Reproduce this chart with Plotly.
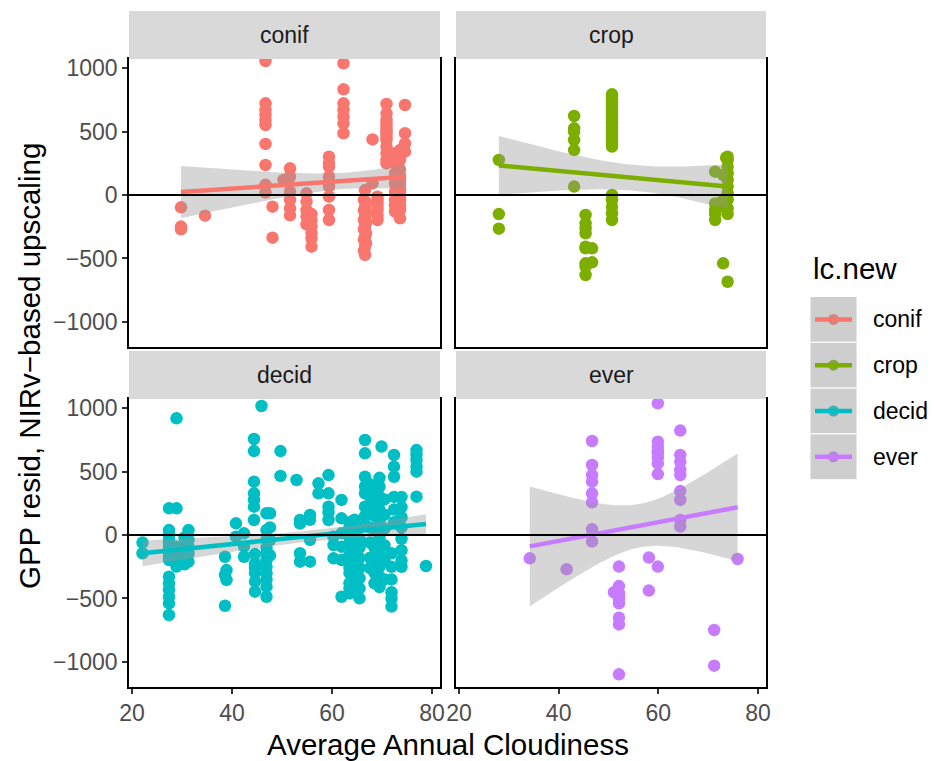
import numpy as np
import plotly.graph_objects as go

W, H = 935, 761

groups = ["conif", "crop", "decid", "ever"]
colors = {"conif": "#F8766D", "crop": "#7CAE00", "decid": "#00BFC4", "ever": "#C77CFF"}

conif_x = [29.8, 29.8, 29.8, 34.6,
           46.7, 46.7, 46.7, 46.7, 46.7, 46.7, 46.7, 46.7, 46.7, 46.7,
           48.1, 48.1, 50.3,
           51.6, 51.6, 51.6, 51.6, 51.6, 51.6,
           54.9, 54.9, 54.9, 54.9, 54.9,
           55.9, 55.9, 55.9, 55.9, 55.9, 55.9,
           59.4, 59.4, 59.4, 59.4, 59.4, 59.4, 59.4, 59.4, 59.4,
           62.3, 62.3, 62.3, 62.3, 62.3, 62.3, 62.3,
           66.6, 66.4, 66.8, 66.6, 66.4, 66.8, 66.6, 66.4, 66.8, 66.6, 66.4, 66.8, 66.6, 66.4, 66.8, 66.6, 66.4, 66.6,
           68.1, 68.1,
           69.1, 69.1, 69.1, 69.1, 69.1, 69.1, 69.1,
           70.9, 70.9, 70.9, 70.9, 70.9, 70.9, 70.9, 70.9, 70.9, 70.9, 70.9, 70.9, 70.9,
           72.6, 72.6, 72.6, 72.6, 72.6, 72.6, 72.6, 72.6,
           73.6, 73.6, 73.6, 73.6, 73.6, 73.6, 73.6, 73.6, 73.6, 73.6, 73.6, 73.6, 73.6,
           74.6, 74.6, 74.6, 74.6]
conif_y = [-97, -249, -270, -163,
           1055, 722, 669, 630, 590, 551, 402, 236, 80, 20,
           -92, -336, 118,
           210, 144, 26, -39, -105, -160,
           13, -52, -118, -170, -230,
           -150, -200, -249, -300, -341, -407,
           302, 250, 223, 144, 100, 66, -13, -118, -197,
           1037, 832, 722, 669, 617, 564, 486,
           39, -39, -60, -92, -120, -144, -170, -197, -220, -249, -270, -302, -330, -354, -380, -407, -440, -472,
           438, 92,
           -13, -40, -65, -90, -118, -160, -197,
           717, 643, 590, 560, 538, 510, 486, 460, 433, 381, 328, 276, 249,
           328, 250, 170, 92, 26, -39, -80, -130,
           354, 300, 276, 200, 150, 118, 80, 40, 0, -39, -80, -118, -184,
           709, 486, 407, 341]

crop_x = [28.0, 28.0, 28.0,
          43.1, 43.1, 43.1, 43.1, 43.1, 43.1,
          45.4, 45.4, 45.4, 45.4, 45.4, 45.4, 45.4, 45.4, 45.4,
          46.7, 46.7,
          50.7, 50.7, 50.7, 50.7, 50.7, 50.7, 50.7, 50.7, 50.7, 50.7,
          50.7, 50.7, 50.7, 50.7, 50.7, 50.7, 50.7, 50.7, 50.7, 50.7,
          50.7, 50.7, 50.7, 50.7, 50.7,
          71.4, 71.4, 71.4, 71.4, 71.4,
          73.0, 73.0, 73.0, 73.0,
          73.6,
          73.9, 73.9, 73.9, 73.9, 73.9, 73.9, 73.9, 73.9, 73.9, 73.9, 73.9]
crop_y = [276, -150, -265,
          622, 525, 499, 433, 354, 66,
          -157, -223, -262, -302, -407, -420, -538, -564, -630,
          -420, -530,
          793, 775, 748, 730, 712, 690, 668, 645, 625, 600,
          578, 560, 535, 512, 490, 470, 448, 425, 405, 381,
          0, -39, -92, -144, -197,
          184, -66, -118, -197, -150,
          158, -39, -538, -90,
          294,
          302, 276, 223, 171, 118, 66, 13, -39, -105, -683, -150]

decid_x = [22.1, 22.1,
           27.4, 27.4, 27.4, 27.4, 27.4, 27.4, 27.4, 27.4, 27.4, 27.4, 27.4, 27.4, 27.4, 27.4, 27.4, 27.4,
           28.9, 28.9, 28.9, 28.9, 28.9, 28.9, 28.9,
           30.5, 30.5, 30.5, 30.5,
           31.3, 31.3, 31.3, 31.3, 31.3,
           38.6, 38.6, 38.6, 38.9, 38.9,
           40.8, 40.8, 42.4, 42.4, 42.4,
           44.4, 44.4, 44.4, 44.4, 44.4, 44.4, 44.4,
           44.6, 44.6, 44.6, 44.6, 44.6, 44.6,
           45.9,
           46.9, 46.9, 46.9, 46.9, 46.9, 46.9, 46.9, 46.9, 46.9, 46.9, 46.9,
           47.6, 47.6, 47.6, 47.6,
           49.7, 49.7, 52.9,
           53.6, 53.6, 53.6, 53.6,
           55.6, 55.6, 55.6, 55.6,
           57.3, 57.3,
           59.3, 59.3, 59.3, 59.3, 59.3,
           60.3, 60.3, 60.3,
           61.9, 61.9, 61.9, 61.9, 61.9, 61.9,
           63.5, 63.5, 63.5, 63.5, 63.5, 63.5, 63.5, 63.5, 63.5, 63.5, 63.5, 63.5, 63.5,
           64.5, 64.5, 64.5, 64.5, 64.5, 64.5, 64.5, 64.5, 64.5, 64.5, 64.5,
           65.5, 65.5, 65.5, 65.5, 65.5, 65.5, 65.5, 65.5,
           66.6, 66.6, 66.6, 66.6, 66.6, 66.6, 66.6, 66.6,
           67.6, 67.6, 67.6, 67.6, 67.6, 67.6, 67.6,
           68.5, 68.5, 68.5, 68.5, 68.5, 68.5, 68.5, 68.5,
           69.5, 69.5, 69.5, 69.5, 69.5, 69.5, 69.5, 69.5, 69.5, 69.5,
           69.9,
           70.5, 70.5, 70.5, 70.5, 70.5, 70.5,
           71.9, 71.9, 71.9, 71.9, 71.9, 71.9,
           72.4, 72.4, 72.4, 72.4, 72.4, 72.4,
           73.9, 73.9, 73.9, 73.9, 73.9, 73.9, 73.9, 73.9,
           76.9, 76.9, 76.9, 76.9, 76.9, 76.9,
           78.8]
decid_y = [-60, -144,
           210, 39, 0, -39, -60, -92, -120, -144, -170, -197, -328, -381, -433, -486, -538, -630,
           919, 210, -92, -120, -144, -197, -249,
           -20, -100, -160, -230,
           39, -39, -92, -144, -210,
           -171, -315, -557, -276, -354,
           92, -13, 13, -92, -171,
           756, 661, 420, 328, 276, 223, 118,
           -150, -223, -260, -300, -367, -446,
           1016,
           171, 39, -39, -100, -144, -197, -250, -302, -350, -407, -486,
           171, 60, -40, -160,
           661, 465, 433,
           118, 90, -144, -210,
           158, 120, -39, -210,
           407, 328,
           472, 328, 223, 180, 118,
           -13, -79, -184,
           276, 131, 13, -92, -197, -486,
           100, 60, 40, -20, -60, -80, -150, -220, -260, -300, -380, -420, -460,
           120, 30, -10, -50, -120, -170, -200, -280, -320, -350, -430,
           60, -30, -100, -180, -260, -340, -420, -499,
           748, 643, 459, 381, 328, 223, 150, 80,
           400, 300, 180, 60, -60, -180, -260,
           350, 250, 150, 40, -100, -220, -300, -380,
           450, 380, 300, 200, 100, -20, -150, -250, -330, -410,
           696,
           280, 160, 50, -80, -200, -350,
           -144, -250, -350, -450, -500, -564,
           630, 538, 459, 300, 200, 100,
           300, 220, 140, 60, -30, -120, -200, -250,
           669, 630, 590, 538, 499, 302,
           -244]

ever_x = [34.2, 41.6,
          46.7, 46.7, 46.7, 46.7, 46.7, 46.7, 46.7, 46.7,
          51.1,
          52.1, 52.1, 52.1, 52.1, 52.1, 52.1, 52.1, 52.1, 52.1,
          58.1, 58.1,
          59.9, 59.9, 59.9, 59.9, 59.9, 59.9, 59.9, 59.9, 59.9,
          64.4, 64.4, 64.4, 64.4, 64.4, 64.4, 64.4, 64.4, 64.4,
          71.2, 71.2, 75.9]
ever_y = [-184, -270,
          740, 551, 472, 420, 328, 257, 45, -52,
          -451,
          -249, -402, -459, -486, -500, -538, -651, -704, -1097,
          -178, -438,
          1037, 735, 696, 660, 643, 610, 564, 480, -249,
          822, 630, 577, 512, 472, 346, 276, 118, 66,
          -748, -1029, -189]

data = {"conif": (conif_x, conif_y), "crop": (crop_x, crop_y),
        "decid": (decid_x, decid_y), "ever": (ever_x, ever_y)}

x_ticks = [20, 40, 60, 80]
y_ticks = [-1000, -500, 0, 500, 1000]
X_RANGE = [19.4, 81.6]
Y_RANGE = [-1197, 1071]
REF_Y = 0

x_title = "Average Annual Cloudiness"
y_title = "GPP resid, NIRv\u2212based upscaling"
legend_title = "lc.new"


def t_quantile(df, z=1.959964):
    return (z + (z**3 + z) / (4 * df) + (5 * z**5 + 16 * z**3 + 3 * z) / (96 * df**2)
            + (3 * z**7 + 19 * z**5 + 17 * z**3 - 15 * z) / (384 * df**3))


def lm_band(x, y, n_out=80):
    x = np.asarray(x, float)
    y = np.asarray(y, float)
    n = len(x)
    xb, yb = x.mean(), y.mean()
    sxx = ((x - xb) ** 2).sum()
    b = ((x - xb) * (y - yb)).sum() / sxx
    a = yb - b * xb
    res = y - (a + b * x)
    s2 = (res ** 2).sum() / (n - 2)
    xs = np.linspace(x.min(), x.max(), n_out)
    fit = a + b * xs
    se = np.sqrt(s2 * (1.0 / n + (xs - xb) ** 2 / sxx))
    t = t_quantile(n - 2)
    return xs, fit, fit - t * se, fit + t * se


def fx(px):
    return px / W


def fy(py):
    return 1 - py / H


# panel pixel boxes (left, right, top, bottom)
panels = {
    "conif": (129, 440, 59, 347),
    "crop": (456, 766, 59, 347),
    "decid": (129, 440, 399, 687),
    "ever": (456, 766, 399, 687),
}
STRIP_H = 48

FONT = "Liberation Sans, Arial, Helvetica, sans-serif"
TICK_SIZE = 23
TITLE_SIZE = 29.5
fig = go.Figure()
layout = dict(
    width=W, height=H, margin=dict(l=0, r=0, t=0, b=0, autoexpand=False),
    paper_bgcolor="white", plot_bgcolor="white", showlegend=False,
    font=dict(family=FONT),
)
shapes = []
annotations = []

for i, g in enumerate(groups):
    k = "" if i == 0 else str(i + 1)
    xa, ya = "x" + k, "y" + k
    L, R, T, B = panels[g]
    bottom_row = g in ("decid", "ever")
    left_col = g in ("conif", "decid")
    layout["xaxis" + k] = dict(
        domain=[fx(L), fx(R)], range=X_RANGE, anchor=ya, automargin=False,
        showgrid=False, zeroline=False, showline=True, linecolor="black", linewidth=1.6, mirror=True,
        tickvals=x_ticks, showticklabels=bottom_row,
        ticks="outside" if bottom_row else "", ticklen=5, tickwidth=1.5, tickcolor="#333333",
        tickfont=dict(size=TICK_SIZE, color="#4D4D4D", family=FONT),
    )
    layout["yaxis" + k] = dict(
        domain=[fy(B), fy(T)], range=Y_RANGE, anchor=xa, automargin=False,
        showgrid=False, zeroline=False, showline=True, linecolor="black", linewidth=1.6, mirror=True,
        tickvals=y_ticks, showticklabels=left_col,
        ticks="outside" if left_col else "", ticklen=5, tickwidth=1.5, tickcolor="#333333",
        tickfont=dict(size=TICK_SIZE, color="#4D4D4D", family=FONT),
    )
    x, y = data[g]
    fig.add_trace(go.Scatter(x=x, y=y, mode="markers", xaxis=xa, yaxis=ya,
                             marker=dict(size=12.5, color=colors[g], line=dict(width=0))))
    xs, fit, lo, hi = lm_band(x, y)
    fig.add_trace(go.Scatter(x=np.concatenate([xs, xs[::-1]]), y=np.concatenate([hi, lo[::-1]]),
                             mode="lines", fill="toself", fillcolor="rgba(153,153,153,0.4)",
                             line=dict(width=0), xaxis=xa, yaxis=ya, hoverinfo="skip"))
    fig.add_trace(go.Scatter(x=xs, y=fit, mode="lines", line=dict(color=colors[g], width=4.5),
                             xaxis=xa, yaxis=ya))
    shapes.append(dict(type="line", xref=xa + " domain", yref=ya, x0=0, x1=1, y0=REF_Y, y1=REF_Y,
                       line=dict(color="black", width=2), layer="above"))
    # strip
    shapes.append(dict(type="rect", xref="paper", yref="paper", x0=fx(L), x1=fx(R),
                       y0=fy(T), y1=fy(T - STRIP_H), fillcolor="#D9D9D9", line=dict(width=0)))
    annotations.append(dict(text=g, xref="paper", yref="paper", x=fx((L + R) / 2),
                            y=fy(T - STRIP_H / 2), showarrow=False, xanchor="center", yanchor="middle",
                            font=dict(size=TICK_SIZE, color="#1A1A1A", family=FONT)))

annotations.append(dict(text=x_title, xref="paper", yref="paper", x=fx(447.5), y=fy(744),
                        showarrow=False, xanchor="center", yanchor="middle",
                        font=dict(size=TITLE_SIZE, color="black", family=FONT)))
annotations.append(dict(text=y_title, xref="paper", yref="paper", x=fx(29), y=fy(366),
                        showarrow=False, xanchor="center", yanchor="middle", textangle=-90,
                        font=dict(size=TITLE_SIZE, color="black", family=FONT)))

# manual legend
annotations.append(dict(text=legend_title, xref="paper", yref="paper", x=fx(811), y=fy(268),
                        showarrow=False, xanchor="left", yanchor="middle",
                        font=dict(size=TITLE_SIZE, color="black", family=FONT)))
key_top = 296.5
key_h = 45.8
for j, g in enumerate(groups):
    t0 = key_top + j * key_h
    cy = t0 + key_h / 2
    shapes.append(dict(type="rect", xref="paper", yref="paper", x0=fx(810), x1=fx(857),
                       y0=fy(t0 + key_h), y1=fy(t0), fillcolor="#CECECE",
                       line=dict(color="white", width=1)))
    c = colors[g]
    rgb = [int(c[1:3], 16), int(c[3:5], 16), int(c[5:7], 16)]
    mix = "rgb(%d,%d,%d)" % tuple(int(0.6 * v + 0.4 * 153) for v in rgb)
    shapes.append(dict(type="circle", xref="paper", yref="paper", x0=fx(833.5 - 5.5), x1=fx(833.5 + 5.5),
                       y0=fy(cy + 5.5), y1=fy(cy - 5.5), fillcolor=mix, line=dict(width=0)))
    shapes.append(dict(type="line", xref="paper", yref="paper", x0=fx(815), x1=fx(852),
                       y0=fy(cy), y1=fy(cy), line=dict(color=c, width=4.5)))
    annotations.append(dict(text=g, xref="paper", yref="paper", x=fx(871), y=fy(cy),
                            showarrow=False, xanchor="left", yanchor="middle",
                            font=dict(size=TICK_SIZE, color="black", family=FONT)))

layout["shapes"] = shapes
layout["annotations"] = annotations
fig.update_layout(**layout)
fig.write_html("out.html")
